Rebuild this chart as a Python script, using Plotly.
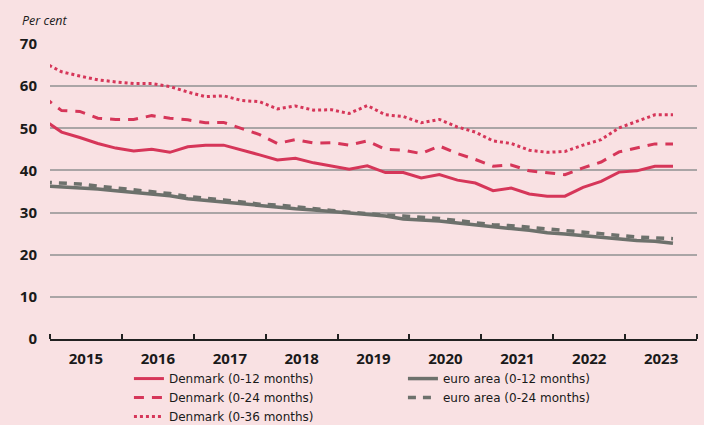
import pandas as pd
import plotly.graph_objects as go

# quarterly observations, Dec 2014 - Sep 2023
dates = pd.date_range("2014-12-01", "2023-09-01", freq="3MS")

dk_12 = [52.0, 49.1, 47.8, 46.4, 45.3, 44.6, 45.0, 44.3, 45.6, 46.0, 46.0, 44.9,
         43.7, 42.5, 42.9, 41.8, 41.1, 40.3, 41.1, 39.5, 39.5, 38.2, 39.0, 37.7,
         37.0, 35.2, 35.8, 34.4, 33.9, 33.9, 36.0, 37.4, 39.6, 39.9, 41.0, 41.0]
dk_24 = [57.4, 54.2, 54.0, 52.4, 52.1, 52.1, 53.0, 52.4, 52.0, 51.3, 51.4, 49.9,
         48.5, 46.4, 47.3, 46.5, 46.6, 46.0, 47.0, 45.0, 44.8, 44.0, 45.8, 44.0,
         42.6, 41.0, 41.3, 39.9, 39.4, 39.0, 40.6, 42.0, 44.4, 45.3, 46.3, 46.3]
dk_36 = [65.6, 63.4, 62.4, 61.5, 61.0, 60.6, 60.6, 59.9, 58.6, 57.5, 57.7, 56.6,
         56.3, 54.6, 55.3, 54.3, 54.4, 53.5, 55.4, 53.2, 52.8, 51.3, 52.1, 50.3,
         49.1, 47.0, 46.4, 44.8, 44.3, 44.5, 46.0, 47.3, 50.1, 51.7, 53.2, 53.2]
ea_12 = [36.3, 36.1, 35.9, 35.6, 35.2, 34.8, 34.5, 34.0, 33.3, 32.9, 32.6, 32.2,
         31.6, 31.3, 30.9, 30.6, 30.3, 30.0, 29.6, 29.2, 28.5, 28.3, 28.0, 27.5,
         27.0, 26.6, 26.2, 25.8, 25.2, 24.9, 24.5, 24.2, 23.8, 23.4, 23.2, 22.7]
ea_24 = [37.2, 37.0, 36.8, 36.3, 35.9, 35.4, 34.9, 34.5, 33.8, 33.3, 33.0, 32.5,
         32.0, 31.8, 31.3, 30.9, 30.5, 30.1, 29.7, 29.4, 29.2, 29.0, 28.6, 28.1,
         27.6, 27.1, 26.9, 26.5, 26.0, 25.6, 25.2, 24.9, 24.5, 24.2, 24.0, 23.8]

RED = "#d63659"
GREY = "#6d716c"
BG = "#f9e1e3"
FONT = "Open Sans"
LEGEND_FONT = "DejaVu Sans"

fig = go.Figure()

# legend order (row-wise): dk12, ea12, dk24, ea24, dk36
fig.add_trace(go.Scatter(x=dates, y=dk_12, name="Denmark (0-12 months)", mode="lines",
                         line=dict(color=RED, width=3)))
fig.add_trace(go.Scatter(x=dates, y=ea_12, name="euro area (0-12 months)", mode="lines",
                         line=dict(color=GREY, width=3.5)))
fig.add_trace(go.Scatter(x=dates, y=dk_24, name="Denmark (0-24 months)", mode="lines",
                         line=dict(color=RED, width=3, dash="10px,8px")))
fig.add_trace(go.Scatter(x=dates, y=ea_24, name="euro area (0-24 months)", mode="lines",
                         line=dict(color=GREY, width=3.5, dash="8px,7px")))
fig.add_trace(go.Scatter(x=dates, y=dk_36, name="Denmark (0-36 months)", mode="lines",
                         line=dict(color=RED, width=3, dash="dot")))

fig.update_layout(
    width=704, height=425,
    paper_bgcolor=BG, plot_bgcolor=BG,
    margin=dict(l=50, r=7, t=44, b=86, autoexpand=False),
    font=dict(family=FONT, color="#1a1a1a", size=13),
    showlegend=True,
    legend=dict(orientation="h", x=0.122, xanchor="left", y=-0.085, yanchor="top",
                entrywidth=229, font=dict(size=12, family=LEGEND_FONT, color="#1a1a1a"),
                bgcolor="rgba(0,0,0,0)", itemwidth=30),
    annotations=[dict(text="<i>Per cent</i>", xref="paper", yref="paper",
                      x=-0.047, y=1.08, xanchor="left", yanchor="middle",
                      showarrow=False, font=dict(size=12.5, family=FONT, color="#1a1a1a"))],
)

fig.update_xaxes(
    type="date", range=["2015-01-01", "2024-01-01"], automargin=False,
    dtick="M12", tick0="2015-01-01", ticklabelmode="period", tickformat="<b>%Y</b>",
    showgrid=False, zeroline=False,
    showline=True, linecolor="#222222", linewidth=2,
    ticks="inside", ticklen=5, tickwidth=2, tickcolor="#222222",
    ticklabelstandoff=5,
    tickfont=dict(size=15, family=FONT, color="#1a1a1a"),
)
fig.update_yaxes(
    range=[0, 70], dtick=10, automargin=False,
    showgrid=True, gridcolor="#aaa5a6", gridwidth=1.5,
    zeroline=False, ticks="", ticklabelstandoff=12,
    tickprefix="<b>", ticksuffix="</b>",
    tickfont=dict(size=15, family=FONT, color="#1a1a1a"),
)

# drop the default page margin so the figure sits flush in the window
fig.write_html("out.html", config={"displayModeBar": False},
               post_script="document.body.style.margin='0';")
